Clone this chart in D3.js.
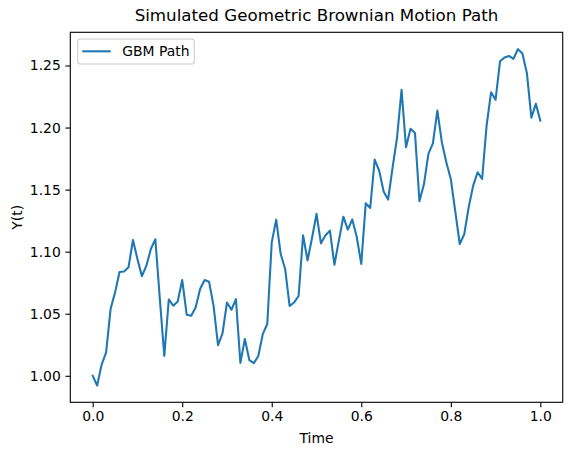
<!DOCTYPE html>
<html>
<head>
<meta charset="utf-8">
<script src="https://cdn.jsdelivr.net/npm/d3@7"></script>
<style>
  body { margin: 0; background: #fff; }
  svg { display: block; font-family: "DejaVu Sans", sans-serif; }
</style>
</head>
<body>
<svg id="chart" width="576" height="455"></svg>
<script>
// GBM path values, t = 0, 0.01, ..., 1.0
const times = d3.range(101).map(i => i / 100);
const pathValues = [
  1.0000, 0.9922, 1.0090, 1.0188, 1.0538, 1.0672, 1.0836, 1.0841, 1.0874, 1.1094,
  1.0940, 1.0803, 1.0887, 1.1022, 1.1100, 1.0620, 1.0161, 1.0615, 1.0565, 1.0599,
  1.0772, 1.0492, 1.0484, 1.0551, 1.0699, 1.0772, 1.0758, 1.0565, 1.0247, 1.0341,
  1.0591, 1.0532, 1.0618, 1.0104, 1.0296, 1.0126, 1.0102, 1.0159, 1.0336, 1.0417,
  1.1075, 1.1258, 1.0981, 1.0860, 1.0562, 1.0591, 1.0643, 1.1132, 1.0930, 1.1110,
  1.1305, 1.1067, 1.1132, 1.1169, 1.0895, 1.1089, 1.1282, 1.1178, 1.1260, 1.1116,
  1.0902, 1.1390, 1.1352, 1.1742, 1.1653, 1.1485, 1.1420, 1.1680, 1.1920, 1.2304,
  1.1841, 1.1990, 1.1957, 1.1406, 1.1543, 1.1788, 1.1872, 1.2137, 1.1882, 1.1720,
  1.1586, 1.1324, 1.1062, 1.1140, 1.1358, 1.1532, 1.1640, 1.1586, 1.2016, 1.2285,
  1.2224, 1.2534, 1.2565, 1.2577, 1.2554, 1.2632, 1.2596, 1.2438, 1.2080, 1.2191,
  1.2056
];
const xTicks = [0, 0.2, 0.4, 0.6, 0.8, 1.0];
const yTicks = [1.00, 1.05, 1.10, 1.15, 1.20, 1.25];
const seriesName = "GBM Path";

const data = times.map((t, i) => ({ t: t, y: pathValues[i] }));

const axL = 70.3, axR = 562.7, axT = 32.3, axB = 402.3;
const svg = d3.select("#chart");

// matplotlib style 5% margins
const yMin = d3.min(pathValues), yMax = d3.max(pathValues);
const yPad = (yMax - yMin) * 0.05;
const x = d3.scaleLinear().domain([-0.05, 1.05]).range([axL, axR]);
const y = d3.scaleLinear().domain([yMin - yPad, yMax + yPad]).range([axB, axT]);

const line = d3.line().x(d => x(d.t)).y(d => y(d.y));

svg.append("path")
  .datum(data)
  .attr("d", line)
  .attr("fill", "none")
  .attr("stroke", "#1f77b4")
  .attr("stroke-width", 2.08)
  .attr("stroke-linejoin", "round")
  .attr("stroke-linecap", "square");

// axes
const xAxis = svg.append("g")
  .attr("transform", `translate(0,${axB})`)
  .call(d3.axisBottom(x).tickValues(xTicks).tickFormat(d3.format(".1f"))
    .tickSize(4.9).tickPadding(4.2).tickSizeOuter(0));
const yAxis = svg.append("g")
  .attr("transform", `translate(${axL},0)`)
  .call(d3.axisLeft(y).tickValues(yTicks).tickFormat(d3.format(".2f"))
    .tickSize(4.9).tickPadding(4.6).tickSizeOuter(0));

[xAxis, yAxis].forEach(g => {
  g.select(".domain").remove();
  g.selectAll(".tick line").attr("stroke", "#000").attr("stroke-width", 1.1);
  g.selectAll(".tick text")
    .attr("fill", "#000")
    .style("font-family", "DejaVu Sans")
    .style("font-size", "13.9px");
});

// frame
svg.append("rect")
  .attr("x", axL).attr("y", axT)
  .attr("width", axR - axL).attr("height", axB - axT)
  .attr("fill", "none")
  .attr("stroke", "#000")
  .attr("stroke-width", 1.1);

// labels
svg.append("text")
  .attr("x", (axL + axR) / 2).attr("y", 20.5)
  .attr("text-anchor", "middle")
  .style("font-size", "16.7px")
  .text("Simulated Geometric Brownian Motion Path");

svg.append("text")
  .attr("x", (axL + axR) / 2).attr("y", 442.5)
  .attr("text-anchor", "middle")
  .style("font-size", "13.9px")
  .text("Time");

svg.append("text")
  .attr("transform", `translate(21.5,${(axT + axB) / 2}) rotate(-90)`)
  .attr("text-anchor", "middle")
  .style("font-size", "13.9px")
  .text("Y(t)");

// legend
const legend = svg.append("g");
legend.append("rect")
  .attr("x", 77.7).attr("y", 39)
  .attr("width", 116.6).attr("height", 25)
  .attr("rx", 2.8)
  .attr("fill", "#fff").attr("fill-opacity", 0.8)
  .attr("stroke", "#cccccc").attr("stroke-width", 1.1);
legend.append("line")
  .attr("x1", 82.3).attr("x2", 110.7)
  .attr("y1", 51.3).attr("y2", 51.3)
  .attr("stroke", "#1f77b4").attr("stroke-width", 2.08);
legend.append("text")
  .attr("x", 122.3).attr("y", 56.3)
  .style("font-size", "13.9px")
  .text(seriesName);
</script>
</body>
</html>
